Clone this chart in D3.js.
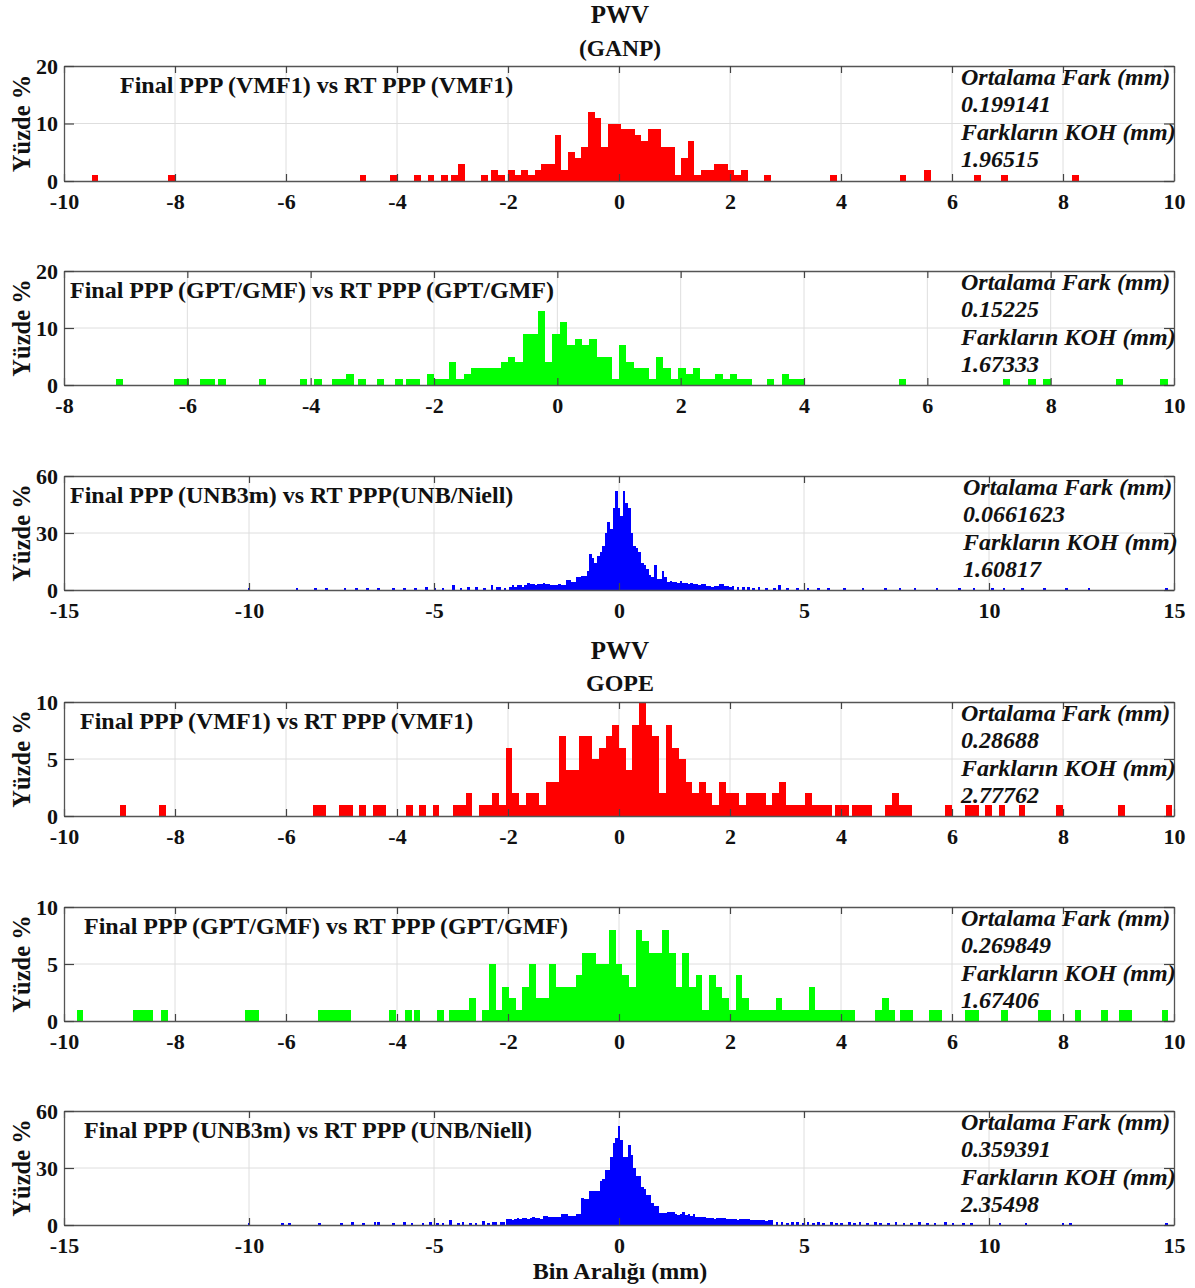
<!DOCTYPE html>
<html>
<head>
<meta charset="utf-8">
<script src="https://cdn.jsdelivr.net/npm/d3@7"></script>
<style>
body { margin: 0; background: #fff; }
svg { display: block; }
</style>
</head>
<body>
<svg id="chart" width="1195" height="1288"></svg>
<script>
// ---- GANP : Final PPP (VMF1) vs RT PPP (VMF1) ----
var ganpVmfBin = [-9.44, -8.06, -4.61, -4.06, -3.63, -3.39, -3.14, -2.96, -2.84, -2.42, -2.24, -2.12,
    -1.94, -1.82, -1.70, -1.58, -1.46, -1.34, -1.22, -1.10, -0.98, -0.86, -0.74, -0.62, -0.50, -0.38,
    -0.26, -0.14, -0.02, 0.10, 0.22, 0.34, 0.46, 0.58, 0.70, 0.82, 0.94, 1.06, 1.18, 1.30, 1.42, 1.54,
    1.66, 1.78, 1.90, 2.02, 2.14, 2.26, 2.68, 3.86, 5.12, 5.56, 6.46, 6.94, 8.22];
var ganpVmfPct = [1, 1, 1, 1, 1, 1, 1, 1, 3, 1, 2, 1,
    2, 1, 2, 1, 2, 3, 3, 8, 2, 5, 4, 6, 12, 11,
    6, 10, 10, 9, 9, 8, 7, 9, 9, 6, 6, 1, 4, 7, 1, 2,
    2, 3, 3, 2, 1, 2, 1, 1, 1, 2, 1, 1, 1];

// ---- GANP : Final PPP (GPT/GMF) vs RT PPP (GPT/GMF) ----
var ganpGptBin = [-7.10, -6.15, -6.03, -5.73, -5.61, -5.44, -4.78, -4.12, -3.88, -3.59, -3.47, -3.36,
    -3.17, -2.87, -2.57, -2.40, -2.28, -2.06,
    -1.94, -1.82, -1.70, -1.58, -1.46, -1.34, -1.22, -1.10, -0.98, -0.86, -0.74, -0.62, -0.50, -0.38,
    -0.26, -0.14, -0.02, 0.10, 0.22, 0.34, 0.46, 0.58, 0.70, 0.82, 0.94, 1.06, 1.18, 1.30, 1.42, 1.54,
    1.66, 1.78, 1.90, 2.02, 2.14, 2.26, 2.38, 2.50, 2.62, 2.74, 2.86, 2.98, 3.10,
    3.46, 3.70, 3.82, 3.94, 5.60, 7.28, 7.70, 7.94, 9.12, 9.84];
var ganpGptPct = [1, 1, 1, 1, 1, 1, 1, 1, 1, 1, 1, 2,
    1, 1, 1, 1, 1, 2,
    1, 1, 4, 1, 2, 3, 3, 3, 3, 4, 5, 4, 9, 9,
    13, 4, 9, 11, 7, 8, 7, 8, 5, 5, 1, 7, 4, 3, 3, 1,
    5, 3, 1, 3, 2, 3, 1, 1, 2, 1, 2, 1, 1,
    1, 2, 1, 1, 1, 1, 1, 1, 1, 1];

// ---- GANP : Final PPP (UNB3m) vs RT PPP (UNB/Niell) ----
var ganpUnbBin = [-10.00, -8.70, -8.20, -7.90, -7.40, -7.10, -6.80, -6.50, -6.10, -5.80, -5.50, -5.20,
    -4.97, -4.76, -4.48, -4.27, -4.06, -3.85, -3.64, -3.43, -3.29, -3.22, -3.08, -2.94,
    -2.87, -2.80, -2.73, -2.66, -2.59, -2.52, -2.45, -2.38, -2.31, -2.24, -2.17, -2.10, -2.03, -1.96,
    -1.89, -1.82, -1.75, -1.68, -1.61, -1.54, -1.47, -1.40, -1.33, -1.26, -1.19, -1.12, -1.05, -0.98,
    -0.91, -0.84, -0.77, -0.70, -0.63, -0.56, -0.49, -0.42, -0.35, -0.28, -0.21, -0.14, -0.07, 0.00,
    0.07, 0.14, 0.21, 0.28, 0.35, 0.42, 0.49, 0.56, 0.63, 0.70, 0.77, 0.84, 0.91, 0.98, 1.05, 1.12,
    1.19, 1.26, 1.33, 1.40, 1.47, 1.54, 1.61, 1.68, 1.75, 1.82, 1.89, 1.96, 2.03, 2.10, 2.17, 2.24,
    2.31, 2.38, 2.45, 2.52, 2.59, 2.66, 2.73, 2.80, 2.87, 2.94, 3.01, 3.08,
    3.22, 3.36, 3.50, 3.64, 3.78, 3.99, 4.20, 4.34, 4.55, 4.83, 5.11, 5.39, 5.67, 6.10, 6.60, 7.20,
    7.60, 8.00, 8.60, 9.20, 9.60, 10.10, 10.40, 10.90, 11.50, 12.10, 12.70, 14.80];
var ganpUnbPct = [0.8, 0.8, 0.8, 0.8, 0.8, 0.8, 0.8, 0.8, 0.8, 0.8, 0.8, 1.6,
    0.8, 0.8, 2.6, 0.8, 1.4, 1.4, 0.8, 2.6, 1.8, 1.8, 1.0, 1.4,
    2.6, 1.8, 2.6, 2.6, 1.8, 2.6, 3.7, 3.2, 3.2, 2.6, 3.2, 3.2, 3.7, 3.2,
    3.2, 2.6, 2.6, 2.6, 3.2, 2.6, 2.6, 5.3, 5.3, 4.0, 4.0, 6.7, 6.7, 7.6,
    7.6, 10, 18.7, 17, 14, 18, 20, 23, 30, 36, 32, 43, 52, 43,
    39, 52, 46, 43, 30, 23, 22, 20, 14, 13, 11, 8, 7, 13, 6, 6,
    10, 7, 4, 5, 4, 4, 3.5, 4.5, 3.7, 3.7, 3.2, 3.7, 3.2, 3.2, 2.6, 3.2,
    3.2, 2.3, 2.3, 1.8, 2.3, 2.3, 3.2, 3.2, 2.0, 2.0, 1.4, 2.0,
    1.4, 1.4, 1.4, 0.8, 1.4, 0.8, 0.8, 2.6, 0.8, 0.8, 0.8, 0.8, 0.8, 0.8, 0.8, 0.8,
    0.8, 0.8, 0.8, 0.8, 0.8, 0.8, 0.8, 0.8, 0.8, 0.8, 0.8, 0.8];

// ---- GOPE : Final PPP (VMF1) vs RT PPP (VMF1) ----
var gopeVmfBin = [-8.94, -8.22, -5.46, -5.34, -4.98, -4.86, -4.62, -4.38, -4.26, -3.78, -3.54, -3.30,
    -2.94, -2.82, -2.70, -2.46, -2.34, -2.22, -2.10, -1.98, -1.86, -1.74, -1.62, -1.50, -1.38, -1.26,
    -1.14, -1.02, -0.90, -0.78, -0.66, -0.54, -0.42, -0.30, -0.18, -0.06, 0.06, 0.18, 0.30, 0.42,
    0.54, 0.66, 0.78, 0.90, 1.02, 1.14, 1.26, 1.38, 1.50, 1.62, 1.74, 1.86, 1.98, 2.10, 2.22, 2.34,
    2.46, 2.58, 2.70, 2.82, 2.94, 3.06, 3.18, 3.30, 3.42, 3.54, 3.66, 3.78, 3.96, 4.08, 4.26, 4.38,
    4.50, 4.86, 4.98, 5.10, 5.22, 5.94, 6.30, 6.42, 6.66, 6.90, 7.26, 7.94, 9.05, 9.91];
var gopeVmfPct = [1, 1, 1, 1, 1, 1, 1, 1, 1, 1, 1, 1,
    1, 1, 2, 1, 1, 2, 1, 6, 2, 1, 2, 2, 1, 3,
    3, 7, 4, 4, 7, 7, 5, 6, 7, 8, 6, 4, 8, 10,
    8, 7, 2, 8, 6, 5, 3, 2, 3, 2, 1, 3, 2, 2, 1, 2,
    2, 2, 1, 2, 3, 1, 1, 1, 2, 1, 1, 1, 1, 1, 1, 1,
    1, 1, 2, 1, 1, 1, 1, 1, 1, 1, 1, 1, 1, 1];

// ---- GOPE : Final PPP (GPT/GMF) vs RT PPP (GPT/GMF) ----
var gopeGptBin = [-9.71, -8.69, -8.57, -8.45, -8.19, -6.67, -6.55, -5.37, -5.25, -5.13, -5.01, -4.89,
    -4.08, -3.79, -3.64, -3.22, -3.00, -2.88, -2.76, -2.64, -2.40, -2.28, -2.16, -2.04, -1.92, -1.80,
    -1.68, -1.56, -1.44, -1.32, -1.20, -1.08, -0.96, -0.84, -0.72, -0.60, -0.48, -0.36, -0.24, -0.12,
    0.00, 0.12, 0.24, 0.36, 0.48, 0.60, 0.72, 0.84, 0.96, 1.08, 1.20, 1.32, 1.44, 1.56, 1.68, 1.80,
    1.92, 2.04, 2.16, 2.28, 2.40, 2.52, 2.64, 2.76, 2.88, 3.00, 3.12, 3.24, 3.36, 3.48, 3.60, 3.72,
    3.84, 3.96, 4.08, 4.20, 4.68, 4.80, 4.92, 5.12, 5.24, 5.64, 5.76, 6.30, 6.42, 6.94, 7.61, 7.73,
    8.27, 8.75, 9.06, 9.18, 9.84];
var gopeGptPct = [1, 1, 1, 1, 1, 1, 1, 1, 1, 1, 1, 1,
    1, 1, 1, 1, 1, 1, 1, 2, 1, 5, 1, 3, 2, 1,
    3, 5, 2, 2, 5, 3, 3, 3, 4, 6, 6, 5, 5, 8,
    5, 4, 3, 8, 7, 6, 6, 8, 6, 3, 6, 3, 4, 1, 4, 3,
    2, 1, 4, 2, 1, 1, 1, 1, 2, 1, 1, 1, 1, 3, 1, 1,
    1, 1, 1, 1, 1, 2, 1, 1, 1, 1, 1, 1, 1, 1, 1, 1,
    1, 1, 1, 1, 1];

// ---- GOPE : Final PPP (UNB3m) vs RT PPP (UNB/Niell) ----
var gopeUnbBin = [-10.00, -9.10, -8.90, -8.10, -7.50, -7.20, -6.90, -6.60, -6.50, -6.10, -5.80, -5.60,
    -5.30, -5.10, -4.90, -4.76, -4.55, -4.34, -4.22, -4.01, -3.87, -3.67, -3.53, -3.40, -3.33, -3.19,
    -3.12, -3.01, -2.94, -2.87, -2.80, -2.73, -2.66, -2.59, -2.52, -2.45, -2.38, -2.31, -2.24, -2.17,
    -2.10, -2.03, -1.96, -1.89, -1.82, -1.75, -1.68, -1.61, -1.54, -1.47, -1.40, -1.33, -1.26, -1.19,
    -1.12, -1.05, -0.98, -0.91, -0.84, -0.77, -0.70, -0.63, -0.56, -0.49, -0.42, -0.35, -0.28, -0.21,
    -0.14, -0.07, 0.00, 0.07, 0.14, 0.21, 0.28, 0.35, 0.42, 0.49, 0.56, 0.63, 0.70, 0.77, 0.84, 0.91,
    0.98, 1.05, 1.12, 1.19, 1.26, 1.33, 1.40, 1.47, 1.54, 1.61, 1.68, 1.75, 1.82, 1.89, 1.96, 2.03,
    2.10, 2.17, 2.24, 2.31, 2.38, 2.45, 2.52, 2.59, 2.66, 2.73, 2.80, 2.87, 2.94, 3.01, 3.08, 3.15,
    3.22, 3.29, 3.36, 3.43, 3.50, 3.57, 3.64, 3.71, 3.78, 3.85, 3.92, 3.99, 4.06, 4.13, 4.27, 4.41,
    4.55, 4.69, 4.83, 4.97, 5.11, 5.25, 5.39, 5.53, 5.74, 5.88, 6.02, 6.23, 6.37, 6.51, 6.72, 6.93,
    7.07, 7.28, 7.49, 7.70, 7.91, 8.12, 8.33, 8.54, 8.82, 9.03, 9.31, 9.52, 10.30, 11.00, 12.00, 12.20,
    14.80];
var gopeUnbPct = [0.8, 0.8, 0.8, 0.8, 0.8, 1.8, 0.8, 1.4, 1.4, 0.8, 1.4, 0.8,
    0.8, 1.4, 0.8, 0.8, 2.5, 0.8, 1.4, 0.8, 1.0, 2.3, 0.8, 1.4, 1.4, 1.4,
    1.4, 3.0, 3.0, 2.6, 3.0, 3.5, 3.0, 3.5, 3.5, 3.0, 3.5, 4.0, 3.5, 3.5,
    3.0, 4.7, 4.7, 4.0, 4.0, 4.0, 4.0, 4.0, 5.8, 5.8, 5.8, 4.7, 4.7, 4.7,
    5.8, 5.8, 14, 13.5, 13.5, 18, 18, 18, 18, 23, 24, 29, 29, 36,
    43, 46, 52, 45, 36, 36, 42, 37, 30, 26, 26, 20, 19, 16, 16, 11.4,
    10, 10, 6.5, 6.5, 6.5, 7, 7, 7, 6, 5.5, 6, 7, 5.5, 6, 5, 5.8,
    4.4, 4.4, 4.4, 4.4, 3.5, 3.5, 3.5, 3.0, 3.5, 3.5, 3.5, 3.5, 3.0, 3.0, 3.0, 3.0,
    2.6, 3.0, 3.0, 3.0, 3.0, 2.6, 2.6, 2.6, 2.6, 2.6, 2.6, 2.0, 2.6, 2.6, 1.5, 1.5,
    1.0, 1.5, 1.4, 1.0, 1.4, 0.8, 1.4, 1.0, 1.4, 0.8, 1.0, 1.4, 0.8, 1.4, 1.0, 1.4,
    0.8, 1.0, 1.4, 0.8, 1.0, 1.4, 0.8, 1.0, 1.4, 0.8, 1.0, 0.8, 0.8, 0.8, 0.8, 0.8,
    0.8];

// tick labels
var ticksTen = [-10, -8, -6, -4, -2, 0, 2, 4, 6, 8, 10];
var ticksGpt = [-8, -6, -4, -2, 0, 2, 4, 6, 8, 10];
var ticksFifteen = [-15, -10, -5, 0, 5, 10, 15];

var statsGanpVmf = ["Ortalama Fark (mm)", "0.199141", "Farkların KOH (mm)", "1.96515"];
var statsGanpGpt = ["Ortalama Fark (mm)", "0.15225", "Farkların KOH (mm)", "1.67333"];
var statsGanpUnb = ["Ortalama Fark (mm)", "0.0661623", "Farkların KOH (mm)", "1.60817"];
var statsGopeVmf = ["Ortalama Fark (mm)", "0.28688", "Farkların KOH (mm)", "2.77762"];
var statsGopeGpt = ["Ortalama Fark (mm)", "0.269849", "Farkların KOH (mm)", "1.67406"];
var statsGopeUnb = ["Ortalama Fark (mm)", "0.359391", "Farkların KOH (mm)", "2.35498"];

var left = 64, right = 1174;
var font = "'Liberation Serif', 'Times New Roman', serif";

var panels = [
    { bins: ganpVmfBin, pct: ganpVmfPct, w: 0.12, color: "#ff0000", xd: [-10, 10], xt: ticksTen, yMax: 20, yt: [0, 10, 20],
      top: 66, bottom: 181, label: "Final PPP (VMF1) vs RT PPP (VMF1)", lx: 120, stats: statsGanpVmf, sx: 961 },
    { bins: ganpGptBin, pct: ganpGptPct, w: 0.12, color: "#00ff00", xd: [-8, 10], xt: ticksGpt, yMax: 20, yt: [0, 10, 20],
      top: 271, bottom: 385, label: "Final PPP (GPT/GMF) vs RT PPP (GPT/GMF)", lx: 70, stats: statsGanpGpt, sx: 961 },
    { bins: ganpUnbBin, pct: ganpUnbPct, w: 0.07, color: "#0000ff", xd: [-15, 15], xt: ticksFifteen, yMax: 60, yt: [0, 30, 60],
      top: 476, bottom: 590, label: "Final PPP (UNB3m) vs RT PPP(UNB/Niell)", lx: 70, stats: statsGanpUnb, sx: 963 },
    { bins: gopeVmfBin, pct: gopeVmfPct, w: 0.12, color: "#ff0000", xd: [-10, 10], xt: ticksTen, yMax: 10, yt: [0, 5, 10],
      top: 702, bottom: 816, label: "Final PPP (VMF1) vs RT PPP (VMF1)", lx: 80, stats: statsGopeVmf, sx: 961 },
    { bins: gopeGptBin, pct: gopeGptPct, w: 0.12, color: "#00ff00", xd: [-10, 10], xt: ticksTen, yMax: 10, yt: [0, 5, 10],
      top: 907, bottom: 1021, label: "Final PPP (GPT/GMF) vs RT PPP (GPT/GMF)", lx: 84, stats: statsGopeGpt, sx: 961 },
    { bins: gopeUnbBin, pct: gopeUnbPct, w: 0.07, color: "#0000ff", xd: [-15, 15], xt: ticksFifteen, yMax: 60, yt: [0, 30, 60],
      top: 1111, bottom: 1225, label: "Final PPP (UNB3m) vs RT PPP (UNB/Niell)", lx: 84, stats: statsGopeUnb, sx: 961 }
];

var svg = d3.select("#chart").style("font-family", font);
var plain = function (d) { return String(d); };   // hyphen minus like matlab

function drawPanel(p) {
    var x = d3.scaleLinear().domain(p.xd).range([left, right]);
    var y = d3.scaleLinear().domain([0, p.yMax]).range([p.bottom, p.top]);
    var g = svg.append("g");

    // grid under the bars
    g.selectAll(".gx").data(p.xt.slice(1, -1)).join("line")
        .attr("x1", function (d) { return x(d); }).attr("x2", function (d) { return x(d); })
        .attr("y1", p.top).attr("y2", p.bottom)
        .attr("stroke", "#dedede").attr("stroke-width", 1);
    g.selectAll(".gy").data(p.yt.slice(1, -1)).join("line")
        .attr("x1", left).attr("x2", right)
        .attr("y1", function (d) { return y(d); }).attr("y2", function (d) { return y(d); })
        .attr("stroke", "#dedede").attr("stroke-width", 1);

    var data = p.bins.map(function (b, i) { return { c: b, v: p.pct[i] }; });
    g.append("g").selectAll("rect").data(data).join("rect")
        .attr("x", function (d) { return x(d.c - p.w / 2); })
        .attr("width", function (d) { return x(d.c + p.w / 2) - x(d.c - p.w / 2); })
        .attr("y", function (d) { return y(d.v); })
        .attr("height", function (d) { return y(0) - y(d.v); })
        .attr("fill", p.color)
        .attr("shape-rendering", "crispEdges");

    // axes: ticks inward on all four sides, like matlab box
    var xb = g.append("g").attr("transform", "translate(0," + p.bottom + ")")
        .call(d3.axisBottom(x).tickValues(p.xt).tickFormat(plain).tickSizeInner(-7).tickSizeOuter(0));
    var xt = g.append("g").attr("transform", "translate(0," + p.top + ")")
        .call(d3.axisTop(x).tickValues(p.xt).tickSizeInner(-7).tickSizeOuter(0).tickFormat(""));
    var yl = g.append("g").attr("transform", "translate(" + left + ",0)")
        .call(d3.axisLeft(y).tickValues(p.yt).tickFormat(plain).tickSizeInner(-10).tickSizeOuter(0));
    var yr = g.append("g").attr("transform", "translate(" + right + ",0)")
        .call(d3.axisRight(y).tickValues(p.yt).tickSizeInner(-10).tickSizeOuter(0).tickFormat(""));
    [xb, xt, yl, yr].forEach(function (a) {
        a.select(".domain").attr("stroke", "#555").attr("stroke-width", 1.3);
        a.selectAll(".tick line").attr("stroke", "#444").attr("stroke-width", 1.2);
        a.selectAll("text").attr("font-family", font).attr("font-weight", "bold")
            .attr("font-size", "22px").attr("fill", "#111");
    });
    xb.selectAll("text").attr("dy", null).attr("y", 28);
    yl.selectAll("text").attr("dy", "0.32em").attr("x", -6);

    // axis name
    g.append("text")
        .attr("transform", "translate(30," + ((p.top + p.bottom) / 2) + ") rotate(-90)")
        .attr("text-anchor", "middle")
        .attr("font-weight", "bold").attr("font-size", "24.5px").attr("fill", "#111")
        .text("Yüzde %");

    g.append("text")
        .attr("x", p.lx).attr("y", p.top + 27)
        .attr("font-weight", "bold").attr("font-size", "24px").attr("fill", "#111")
        .text(p.label);

    g.selectAll(".st").data(p.stats).join("text")
        .attr("x", p.sx).attr("y", function (d, i) { return p.top + 19 + i * 27.4; })
        .attr("font-weight", "bold").attr("font-style", "italic")
        .attr("font-size", "24px").attr("fill", "#111")
        .text(function (d) { return d; });
}

panels.forEach(drawPanel);

// titles
var titles = [
    { t: "PWV", y: 23, s: 25 }, { t: "(GANP)", y: 56, s: 23.5 },
    { t: "PWV", y: 659, s: 25 }, { t: "GOPE", y: 691, s: 24 },
    { t: "Bin Aralığı (mm)", y: 1279, s: 24 }
];
svg.selectAll(".title").data(titles).join("text")
    .attr("x", 620).attr("y", function (d) { return d.y; })
    .attr("text-anchor", "middle")
    .attr("font-weight", "bold").attr("fill", "#111")
    .attr("font-size", function (d) { return d.s + "px"; })
    .text(function (d) { return d.t; });
</script>
</body>
</html>
